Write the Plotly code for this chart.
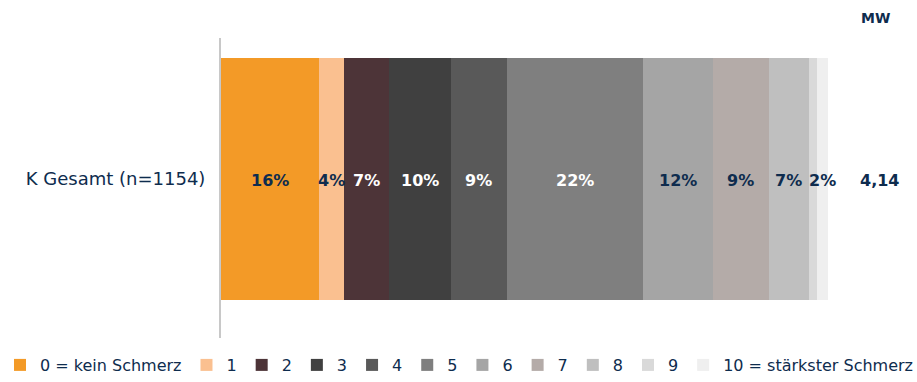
import plotly.graph_objects as go

# Schmerzskala 0..10, Anteile in % (Gesamtgruppe)
category = ["K Gesamt (n=1154)"]
levels = ["0 = kein Schmerz", "1", "2", "3", "4", "5", "6", "7", "8", "9",
          "10 = stärkster Schmerz"]
shares = [16.1, 4.1, 7.4, 10.2, 9.2, 22.4, 11.5, 9.2, 6.6, 1.4, 1.7]
show_label = [True, True, True, True, True, True, True, True, True, False, True]
mean_value = "4,14"
mean_header = "MW"

colors = ["#F39A27", "#FAC090", "#4D3438", "#404040", "#595959", "#7F7F7F",
          "#A5A5A5", "#B4ABA8", "#BFBFBF", "#D9D9D9", "#EFEFEF"]
text_colors = ["#0E2C4E", "#0E2C4E", "#FFFFFF", "#FFFFFF", "#FFFFFF", "#FFFFFF",
               "#0E2C4E", "#0E2C4E", "#0E2C4E", "#0E2C4E", "#0E2C4E"]
NAVY = "#0E2C4E"
FONT = "DejaVu Sans"

fig = go.Figure()
for lvl, val, col in zip(levels, shares, colors):
    fig.add_trace(go.Bar(
        y=category, x=[val], name=lvl, orientation="h",
        marker=dict(color=col, line=dict(width=0)),
        hoverinfo="skip",
    ))

# percentage labels centred in each segment
left = 0.0
for val, show, tc in zip(shares, show_label, text_colors):
    if show:
        fig.add_annotation(
            x=left + val / 2, y=category[0], xref="x", yref="y", yshift=-2,
            text=f"<b>{round(val)}%</b>", showarrow=False,
            font=dict(family=FONT, size=16, color=tc),
        )
    left += val

# mean value column to the right of the bar
total = sum(shares)
fig.add_annotation(x=total + 8.6, y=category[0], xref="x", yref="y", yshift=-2,
                   text=f"<b>{mean_value}</b>", showarrow=False,
                   font=dict(family=FONT, size=16, color=NAVY))
fig.add_annotation(x=total + 7.8, y=1.0, xref="x", yref="paper",
                   yanchor="middle", yshift=20,
                   text=f"<b>{mean_header}</b>", showarrow=False,
                   font=dict(family=FONT, size=14, color=NAVY))

fig.update_layout(
    barmode="stack",
    width=917, height=382,
    margin=dict(l=221, r=0, t=38, b=44, autoexpand=False),
    paper_bgcolor="white", plot_bgcolor="white",
    bargap=0.2,
    showlegend=True,
    legend=dict(orientation="h", x=-0.3175, xanchor="left",
                y=-0.09, yanchor="middle", bgcolor="rgba(0,0,0,0)",
                font=dict(family=FONT, size=16, color=NAVY),
                traceorder="normal", itemwidth=30),
    xaxis=dict(range=[0, 114.5], visible=False, fixedrange=True),
    yaxis=dict(range=[-0.526, 0.466], showline=True, linecolor="#C8C8C8",
               linewidth=2, showgrid=False, ticks="", ticklabelstandoff=10,
               tickfont=dict(family=FONT, size=18, color=NAVY)),
)

fig.write_html("out.html")
